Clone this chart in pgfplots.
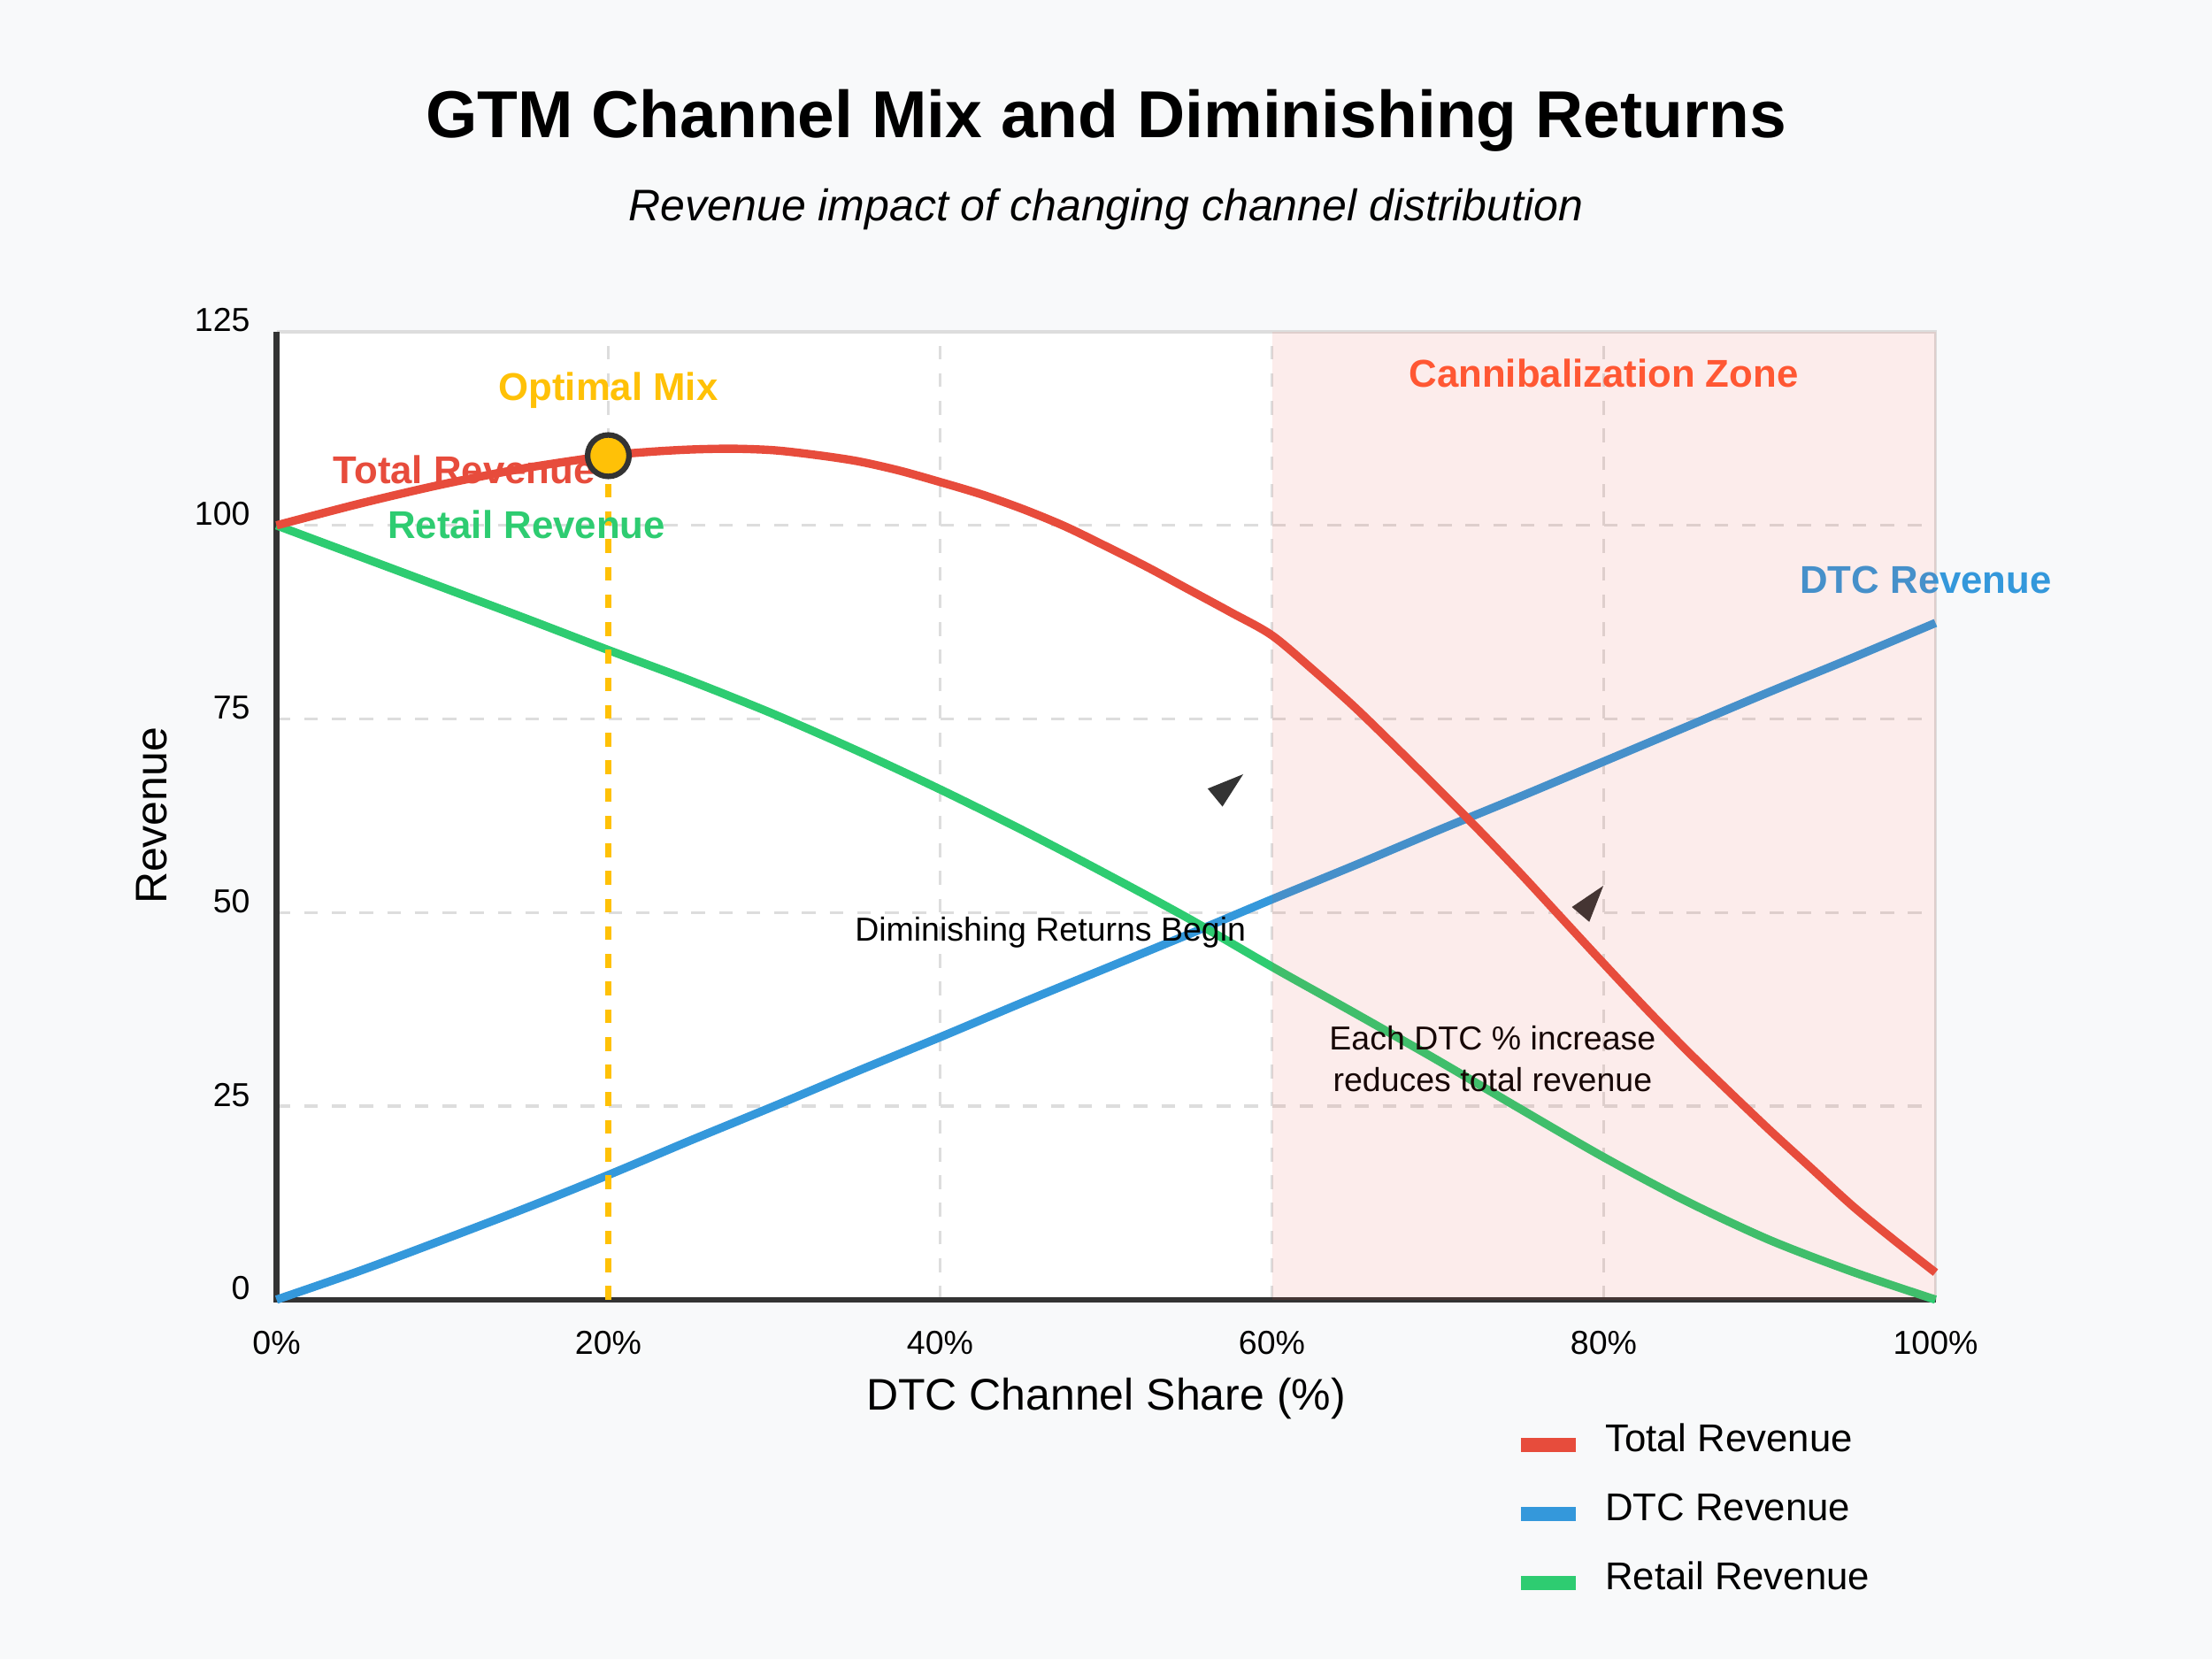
\documentclass[border=0pt]{standalone}
\usepackage{fontspec}
\setmainfont{Liberation Sans}
\usepackage{pgfplots}
\usepackage{pgfplotstable}
\pgfplotsset{compat=1.18}
\definecolor{bgc}{HTML}{F8F9FA}
\definecolor{cred}{HTML}{E74C3C}
\definecolor{cblue}{HTML}{3498DB}
\definecolor{cgreen}{HTML}{2ECC71}
\definecolor{cgold}{HTML}{FFC107}
\definecolor{cdark}{HTML}{333333}
\definecolor{cgrid}{HTML}{DDDDDD}
\definecolor{czone}{HTML}{FF5733}
\newcommand{\fsz}[1]{\fontsize{#1}{#1}\selectfont}

\pgfplotstableread{
x y
0 100
5 102.8
10 105.3
15 107.4
20 109.0
22.5 109.5
25 109.8
27.5 109.9
30 109.7
32.5 109.1
35 108.3
37.5 107.1
40 105.6
42.5 104.0
45 102.1
47.5 99.9
50 97.3
52.5 94.6
55 91.7
57.5 88.8
60 85.8
62.5 81.3
65 76.5
67.5 71.3
70 66.0
72.5 60.6
75 55.0
77.5 49.2
80 43.4
82.5 37.7
85 32.2
87.5 27.0
90 21.9
92.5 17.0
95 12.1
97.5 7.7
100 3.5
}\totaldata

\pgfplotstableread{
x y
0 0
5 3.7
10 7.7
15 11.8
20 16.1
25 20.6
30 25.0
35 29.5
40 33.9
45 38.4
50 42.8
55 47.2
60 51.7
65 56.1
70 60.6
75 65.0
80 69.5
85 74.0
90 78.5
95 82.9
100 87.4
}\dtcdata

\pgfplotstableread{
x y
0 100
5 96.0
10 92.0
15 88.0
20 83.9
25 79.9
30 75.6
35 70.9
40 65.9
45 60.6
50 55.0
55 49.2
60 43.0
65 37.0
70 30.9
75 24.6
80 18.4
85 12.7
90 7.7
95 3.6
100 0
}\retaildata

\begin{document}
\begin{tikzpicture}[x=1pt,y=1pt]
\fill[bgc] (0,0) rectangle (800,600);
\node[anchor=base, inner sep=0pt, font=\fsz{24}\bfseries] at (400,550.1) {GTM Channel Mix and Diminishing Returns};
\node[anchor=base, inner sep=0pt, font=\fsz{16}\itshape] at (400,520.2) {Revenue impact of changing channel distribution};
\node[anchor=base, inner sep=0pt, font=\fsz{16}] at (400,90.1) {DTC Channel Share (\%)};
\node[rotate=90, anchor=center, inner sep=0pt, font=\fsz{16}] at (55,305) {Revenue};

\begin{axis}[
  at={(100pt,130pt)}, anchor=south west,
  width=600pt, height=350pt, scale only axis,
  xmin=0, xmax=100, ymin=0, ymax=125,
  clip=false,
  axis background/.style={fill=white},
  axis line style={draw=none},
  major tick length=0pt,
  tick style={draw=none},
  xtick={0,20,40,60,80,100},
  xticklabels={0\%,20\%,40\%,60\%,80\%,100\%},
  ytick={0,25,50,75,100,125},
  yticklabels={0,25,50,75,100,125},
  xticklabel style={font=\fsz{12}, anchor=base, inner sep=0pt, yshift=-19.8pt},
  yticklabel style={font=\fsz{12}, anchor=base east, inner sep=0pt, xshift=-9.4pt},
  grid=major,
  major grid style={cgrid, line width=1pt, dash pattern=on 5pt off 5pt},
]
% frame
\draw[cgrid, line width=1pt] (axis cs:0,125) -- (axis cs:100,125) -- (axis cs:100,0);
\draw[cdark, line width=2pt] (axis cs:0,125) -- (axis cs:0,0) -- (axis cs:100,0);

\addplot[cblue, line width=3pt, line join=round, smooth, tension=0.5] table {\dtcdata};
\addplot[cgreen, line width=3pt, line join=round, smooth, tension=0.5] table {\retaildata};
\addplot[cred, line width=3pt, line join=round, smooth, tension=0.5] table {\totaldata};

\addplot[cgold, line width=2pt, dash pattern=on 5pt off 5pt] coordinates {(20,0) (20,109)};
\addplot[only marks, mark=*, mark size=7.5pt, mark options={fill=cgold, draw=cdark, line width=2pt}] coordinates {(20,109)};

\node[anchor=base, inner sep=0pt, font=\fsz{14}\bfseries, text=cgold] at (axis cs:20,116.1) {Optimal Mix};
\node[anchor=base west, inner sep=0pt, font=\fsz{14}\bfseries, text=cred] at (axis cs:3.4,105.4) {Total Revenue};
\node[anchor=base west, inner sep=0pt, font=\fsz{14}\bfseries, text=cgreen] at (axis cs:6.67,98.3) {Retail Revenue};
\node[anchor=base west, inner sep=0pt, font=\fsz{14}\bfseries, text=cblue] at (axis cs:91.8,91.2) {DTC Revenue};
\node[anchor=base, inner sep=0pt, font=\fsz{12}] at (axis cs:46.65,46.3) {Diminishing Returns Begin};
\node[anchor=base, inner sep=0pt, font=\fsz{12}] at (axis cs:73.3,32.3) {Each DTC \% increase};
\node[anchor=base, inner sep=0pt, font=\fsz{12}] at (axis cs:73.3,26.9) {reduces total revenue};

\fill[cdark] (axis cs:58.27,67.86) -- (axis cs:56.13,66.0) -- (axis cs:57.02,63.68) -- cycle;
\fill[cdark] (axis cs:79.98,53.46) -- (axis cs:78.08,50.71) -- (axis cs:79.13,48.79) -- cycle;

\fill[cred, fill opacity=0.1] (axis cs:60,0) rectangle (axis cs:100,125);
\node[anchor=base, inner sep=0pt, font=\fsz{14}\bfseries, text=czone] at (axis cs:80,117.9) {Cannibalization Zone};
\end{axis}

\draw[cred, line width=5pt] (550,77.5) -- (570,77.5);
\node[anchor=base west, inner sep=0pt, font=\fsz{14}] at (580.3,75) {Total Revenue};
\draw[cblue, line width=5pt] (550,52.5) -- (570,52.5);
\node[anchor=base west, inner sep=0pt, font=\fsz{14}] at (580.3,50) {DTC Revenue};
\draw[cgreen, line width=5pt] (550,27.5) -- (570,27.5);
\node[anchor=base west, inner sep=0pt, font=\fsz{14}] at (580.3,25) {Retail Revenue};
\end{tikzpicture}
\end{document}
